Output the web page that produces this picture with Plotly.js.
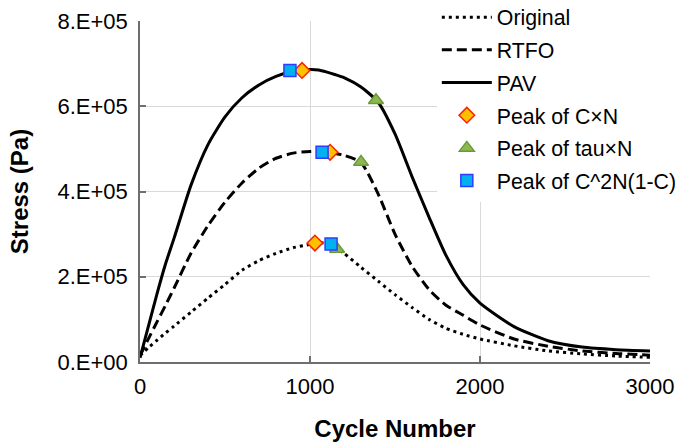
<!DOCTYPE html>
<html>
<head>
<meta charset="utf-8">
<script src="https://cdn.plot.ly/plotly-3.0.1.min.js"></script>
<style>html,body{margin:0;padding:0;background:#fff;}#chart{width:678px;height:445px;}</style>
</head>
<body>
<div id="chart"></div>
<script>
// ---- data ----
const cycles = [0, 50, 100, 150, 200, 300, 400, 500, 600, 700, 800, 900, 1000, 1050, 1100, 1150, 1200, 1300, 1400, 1500, 1600, 1700, 1800, 1900, 2000, 2200, 2400, 2600, 2800, 3000];
const stressOriginal = [1.5e4, 3.4e4, 5.1e4, 6.8e4, 8.4e4, 1.17e5, 1.5e5, 1.82e5, 2.15e5, 2.38e5, 2.55e5, 2.68e5, 2.76e5, 2.8e5, 2.78e5, 2.68e5, 2.55e5, 2.22e5, 1.9e5, 1.58e5, 1.28e5, 1.0e5, 7.9e4, 6.5e4, 5.4e4, 3.8e4, 2.6e4, 1.9e4, 1.4e4, 1.1e4];
const stressRTFO = [1.5e4, 5.5e4, 9.4e4, 1.33e5, 1.73e5, 2.55e5, 3.2e5, 3.75e5, 4.2e5, 4.55e5, 4.78e5, 4.9e5, 4.94e5, 4.94e5, 4.92e5, 4.89e5, 4.85e5, 4.68e5, 3.95e5, 3.0e5, 2.25e5, 1.7e5, 1.33e5, 1.1e5, 8.7e4, 5.4e4, 3.7e4, 2.6e4, 2.0e4, 1.6e4];
const stressPAV = [1.0e4, 8.5e4, 1.6e5, 2.3e5, 2.9e5, 4.15e5, 5.1e5, 5.75e5, 6.2e5, 6.5e5, 6.7e5, 6.82e5, 6.86e5, 6.85e5, 6.8e5, 6.74e5, 6.67e5, 6.45e5, 6.1e5, 5.35e5, 4.35e5, 3.4e5, 2.5e5, 1.82e5, 1.38e5, 8.3e4, 5.0e4, 3.5e4, 2.9e4, 2.6e4];

// peaks, ordered Original, RTFO, PAV
const peakCN_x = [1029, 1118, 953];
const peakCN_y = [2.79e5, 4.92e5, 6.84e5];
const peakTauN_x = [1159, 1300, 1388];
const peakTauN_y = [2.65e5, 4.69e5, 6.14e5];
const peakC2N_x = [1124, 1071, 882];
const peakC2N_y = [2.77e5, 4.92e5, 6.84e5];

const seriesNames = ["Original", "RTFO", "PAV", "Peak of C\u00d7N", "Peak of tau\u00d7N", "Peak of C^2N(1-C)"];
const xTickVals = [0, 1000, 2000, 3000];
const xTickText = ["0", "1000", "2000", "3000"];
const yTickVals = [0, 2e5, 4e5, 6e5, 8e5];
const yTickText = ["0.E+00", "2.E+05", "4.E+05", "6.E+05", "8.E+05"];
const xTitle = "Cycle Number";
const yTitle = "Stress (Pa)";

// ---- traces ----
const FONT = "Liberation Sans, Arial, sans-serif";
function lineTrace(y, name, dash, i) {
  return {x: cycles, y: y, name: name, type: "scatter", mode: "lines",
    legendgroup: "g" + i,
    line: {color: "#000000", width: 3, dash: dash, shape: "spline", smoothing: 0.6}};
}
function markerTrace(x, y, name, symbol, fill, edge, size, i) {
  return {x: x, y: y, name: name, type: "scatter", mode: "markers",
    legendgroup: "g" + i,
    marker: {symbol: symbol, color: fill, size: size, line: {color: edge, width: 1.5}}};
}
const data = [
  lineTrace(stressOriginal, seriesNames[0], "3px,4px", 0),
  lineTrace(stressRTFO, seriesNames[1], "10px,5px", 1),
  lineTrace(stressPAV, seriesNames[2], "solid", 2),
  markerTrace(peakCN_x, peakCN_y, seriesNames[3], "diamond", "#FFC000", "#FF2000", 12, 3),
  markerTrace(peakTauN_x, peakTauN_y, seriesNames[4], "triangle-up", "#8CB84C", "#6A9A3A", 13, 4),
  markerTrace(peakC2N_x, peakC2N_y, seriesNames[5], "square", "#00B0F0", "#2E3CFF", 12, 5)
];

const axisCommon = {
  showgrid: true, gridcolor: "#D9D9D9", gridwidth: 1,
  showline: true, linecolor: "#6E6E6E", linewidth: 1.5,
  ticks: "inside", ticklen: 6, tickcolor: "#6E6E6E", tickwidth: 1.5,
  zeroline: false,
  tickfont: {family: FONT, size: 22, color: "#000000"}
};

const layout = {
  width: 678, height: 445,
  margin: {l: 140, r: 28, t: 21, b: 83, autoexpand: false},
  paper_bgcolor: "#ffffff", plot_bgcolor: "#ffffff",
  font: {family: FONT, color: "#000000"},
  showlegend: true,
  legend: {x: 0.582, y: 1.071, xanchor: "left", yanchor: "top",
    bgcolor: "#ffffff", borderwidth: 0,
    font: {family: FONT, size: 21.3, color: "#000000"},
    itemwidth: 50, tracegroupgap: 2, traceorder: "grouped"},
  xaxis: Object.assign({}, axisCommon, {
    range: [0, 3000], tickmode: "array", tickvals: xTickVals, ticktext: xTickText,
    ticklabelstandoff: 4, automargin: false,
    title: {text: xTitle, font: {family: FONT, size: 24, weight: "bold", color: "#000000"}, standoff: 22}
  }),
  yaxis: Object.assign({}, axisCommon, {
    range: [0, 8e5], tickmode: "array", tickvals: yTickVals, ticktext: yTickText,
    ticklabelstandoff: 6, automargin: false,
    title: {text: yTitle, font: {family: FONT, size: 24, weight: "bold", color: "#000000"}, standoff: 22}
  })
};

Plotly.newPlot("chart", data, layout, {displayModeBar: false, responsive: false});
</script>
</body>
</html>
